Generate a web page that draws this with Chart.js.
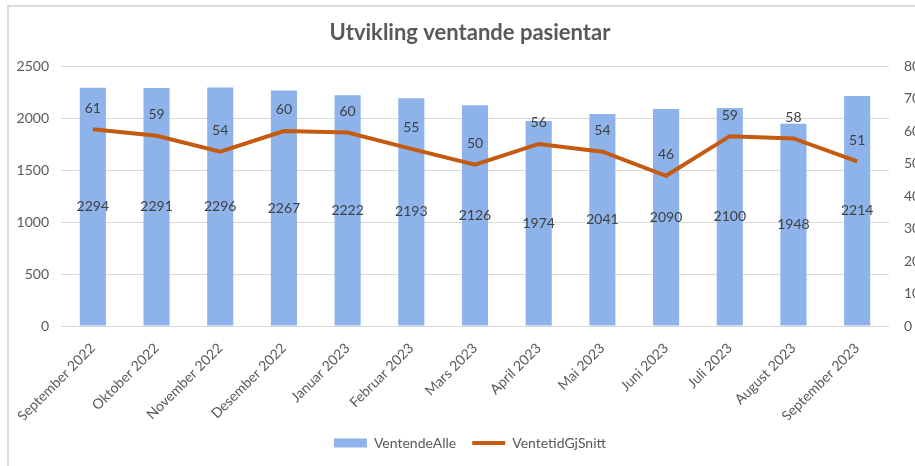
<!DOCTYPE html>
<html lang="no">
<head>
<meta charset="utf-8">
<title>Utvikling ventande pasientar</title>
<script src="https://cdn.jsdelivr.net/npm/chart.js@4.4.0/dist/chart.umd.min.js"></script>
<style>
    html, body { margin: 0; padding: 0; background: #fff; overflow: hidden; }
    body { width: 915px; height: 466px; position: relative; }
    .ramme {
        position: absolute; left: 7px; top: 5px; width: 940px; height: 470px;
        border-left: 2px solid #d9d9d9; border-top: 2px solid #d9d9d9;
    }
    #ventandeChart { position: absolute; left: 7px; top: 0; }
</style>
</head>
<body>
<div class="ramme"></div>
<canvas id="ventandeChart" width="926" height="466"></canvas>
<script>
const maaneder = [
    'September 2022', 'Oktober 2022', 'November 2022', 'Desember 2022',
    'Januar 2023', 'Februar 2023', 'Mars 2023', 'April 2023', 'Mai 2023',
    'Juni 2023', 'Juli 2023', 'August 2023', 'September 2023'
];
const ventendeAlle = [2294, 2291, 2296, 2267, 2222, 2193, 2126, 1974, 2041, 2090, 2100, 1948, 2214];
const ventetidGjSnitt = [60.6, 58.6, 53.7, 60.1, 59.6, 54.6, 49.7, 56.1, 53.7, 46.3, 58.5, 57.8, 50.7];

const tekstFarge = '#595959';
const fontFamilie = 'Lato, "Open Sans", sans-serif';

// enkel erstatning for datalabels-plugin
const verdiEtiketter = {
    id: 'verdiEtiketter',
    afterDatasetsDraw(chart) {
        const ctx = chart.ctx;
        ctx.save();
        ctx.font = '14px ' + fontFamilie;
        ctx.fillStyle = '#404040';
        ctx.textAlign = 'center';
        ctx.textBaseline = 'middle';
        chart.data.datasets.forEach((ds, i) => {
            const meta = chart.getDatasetMeta(i);
            meta.data.forEach((el, j) => {
                const verdi = Math.round(ds.data[j]);
                if (ds.type === 'bar') {
                    ctx.fillText(verdi, el.x, (el.y + el.base) / 2);
                } else {
                    ctx.fillText(verdi, el.x, el.y - 21);
                }
            });
        });
        ctx.restore();
    }
};

document.addEventListener('DOMContentLoaded', function () {
    const ctx = document.getElementById('ventandeChart');

    new Chart(ctx, {
        data: {
            labels: maaneder,
            datasets: [{
                type: 'bar',
                label: 'VentendeAlle',
                data: ventendeAlle,
                backgroundColor: '#8db3ea',
                borderWidth: 0,
                yAxisID: 'y',
                order: 1,
                pointStyle: 'rect',
                categoryPercentage: 1,
                barPercentage: 0.41
            }, {
                type: 'line',
                label: 'VentetidGjSnitt',
                data: ventetidGjSnitt,
                borderColor: '#c55a11',
                backgroundColor: '#c55a11',
                borderWidth: 4,
                pointRadius: 0,
                pointStyle: 'line',
                tension: 0,
                yAxisID: 'y1',
                order: 0
            }]
        },
        options: {
            responsive: false,
            animation: false,
            layout: { padding: { left: 0, right: 0, top: 0, bottom: 6 } },
            plugins: {
                title: {
                    display: true,
                    text: 'Utvikling ventande pasientar',
                    color: tekstFarge,
                    font: { family: fontFamilie, size: 22, weight: 'bold' },
                    padding: { top: 20, bottom: 20 }
                },
                legend: {
                    position: 'bottom',
                    labels: {
                        usePointStyle: true,
                        pointStyleWidth: 33,
                        boxHeight: 9,
                        padding: 16,
                        color: tekstFarge,
                        font: { family: fontFamilie, size: 14 },
                        sort: (a, b) => a.datasetIndex - b.datasetIndex
                    }
                },
                tooltip: { enabled: false }
            },
            scales: {
                x: {
                    grid: { display: false },
                    border: { display: false },
                    ticks: {
                        color: tekstFarge,
                        font: { family: fontFamilie, size: 14 },
                        autoSkip: false,
                        minRotation: 45,
                        maxRotation: 45,
                        padding: 6
                    },
                    afterFit: (scale) => { scale.height = 94; }
                },
                y: {
                    position: 'left',
                    min: 0,
                    max: 2500,
                    grid: { color: '#d9d9d9', drawTicks: false },
                    border: { display: false },
                    ticks: {
                        stepSize: 500,
                        color: tekstFarge,
                        font: { family: fontFamilie, size: 14 },
                        padding: 12,
                        callback: (v) => String(v)
                    },
                    afterFit: (scale) => { scale.width = 54; }
                },
                y1: {
                    position: 'right',
                    min: 0,
                    max: 80,
                    grid: { display: false },
                    border: { display: false },
                    ticks: {
                        stepSize: 10,
                        color: tekstFarge,
                        font: { family: fontFamilie, size: 14 },
                        padding: 7,
                        callback: (v) => String(v)
                    },
                    afterFit: (scale) => { scale.width = 44; }
                }
            }
        },
        plugins: [verdiEtiketter]
    });
});
</script>
</body>
</html>
